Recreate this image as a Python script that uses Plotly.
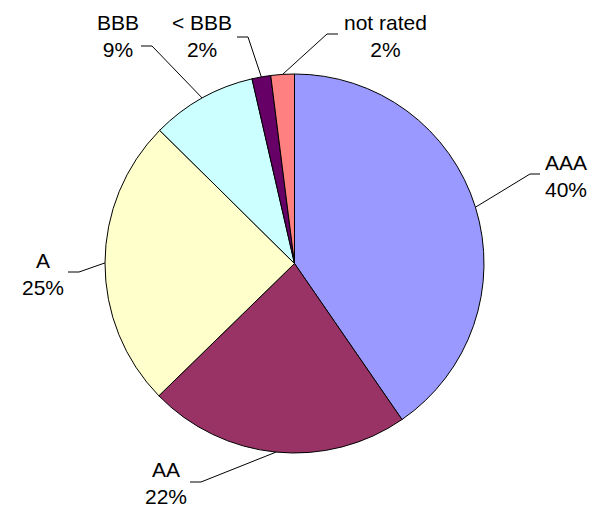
import math
import plotly.graph_objects as go

# Credit-rating breakdown of the portfolio
ratings = ["AAA", "AA", "A", "BBB", "< BBB", "not rated"]
shares = [40.4, 22.3, 24.7, 9.0, 1.6, 2.0]
colors = ["#9999FF", "#993366", "#FFFFCC", "#CCFFFF", "#660066", "#FF8080"]

W, H = 594, 507
CX, CY, R = 294.5, 263.5, 189.5          # pie centre / radius in pixels

# label block centre, elbow point and end of the horizontal tick (pixels)
label_pos = {
    "AAA": ((566, 176), (530, 174), 540),
    "AA": ((166, 483), (201, 482), 190),
    "A": ((43, 274), (79, 272), 68),
    "BBB": ((118, 36), (152, 46), 141),
    "< BBB": ((202, 36), (248, 37), 237),
    "not rated": ((385, 36), (327, 34), 338),
}


def px(x):
    return x / W


def py(y):
    return 1 - y / H


fig = go.Figure(
    go.Pie(
        labels=ratings,
        values=shares,
        sort=False,
        direction="clockwise",
        rotation=0,
        textinfo="none",
        hoverinfo="label+percent",
        marker=dict(colors=colors, line=dict(color="black", width=1)),
        domain=dict(x=[px(CX - R), px(CX + R)], y=[py(CY + R), py(CY - R)]),
    )
)

total = sum(shares)
shapes, annotations = [], []
cum = 0.0
for name, v in zip(ratings, shares):
    mid = (cum + v / 2) / total * 2 * math.pi
    cum += v
    ax, ay = CX + R * math.sin(mid), CY - R * math.cos(mid)
    (tx, ty), (ex, ey), hx = label_pos[name]
    shapes.append(dict(
        type="path", xref="paper", yref="paper",
        path=f"M {px(ax)} {py(ay)} L {px(ex)} {py(ey)} L {px(hx)} {py(ey)}",
        line=dict(color="black", width=1),
    ))
    pct = round(v / total * 100)
    annotations.append(dict(
        x=px(tx), y=py(ty), xref="paper", yref="paper",
        text=f"{name}<br>{pct}%", showarrow=False,
        xanchor="center", yanchor="middle", align="center",
        font=dict(family="Liberation Sans, Arial", size=21, color="black"),
    ))

fig.update_layout(
    width=W, height=H,
    margin=dict(l=0, r=0, t=0, b=0),
    paper_bgcolor="white", plot_bgcolor="white",
    showlegend=False,
    shapes=shapes,
    annotations=annotations,
)

fig.write_html("out.html")
